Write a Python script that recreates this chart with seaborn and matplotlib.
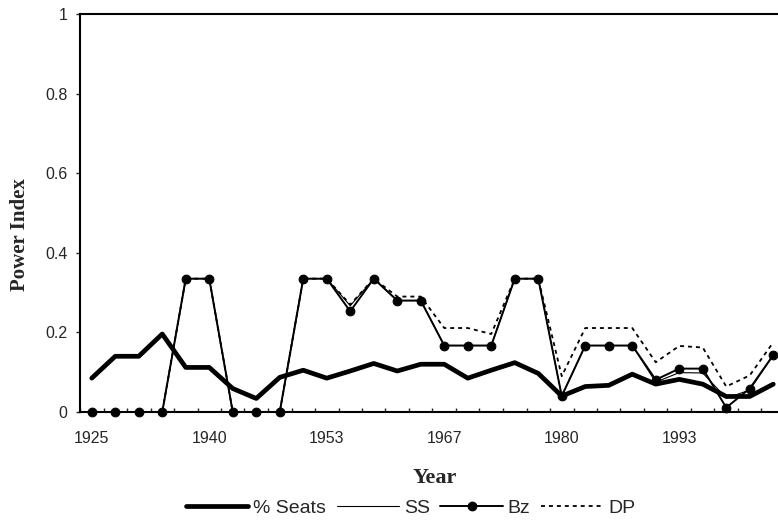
import numpy as np
import pandas as pd
import seaborn as sns
import matplotlib.pyplot as plt

# election years (only every 5th one is labelled on the axis)
years = [1925, 1928, 1931, 1934, 1937, 1940, 1943, 1945, 1948, 1950,
         1953, 1956, 1959, 1962, 1964, 1967, 1970, 1972, 1975, 1977,
         1980, 1983, 1985, 1988, 1990, 1993, 1996, 1998, 2001, 2003]

seats = [0.085, 0.14, 0.14, 0.196, 0.112, 0.112, 0.059, 0.034, 0.087, 0.105,
         0.085, 0.103, 0.122, 0.103, 0.12, 0.12, 0.085, 0.105, 0.124, 0.097,
         0.04, 0.064, 0.067, 0.095, 0.07, 0.082, 0.07, 0.039, 0.039, 0.07]

ss = [0, 0, 0, 0, 0.335, 0.335, 0, 0, 0, 0.335,
      0.335, 0.267, 0.335, 0.28, 0.28, 0.167, 0.167, 0.167, 0.335, 0.335,
      0.04, 0.167, 0.167, 0.167, 0.075, 0.099, 0.098, 0.035, 0.055, 0.143]

bz = [0, 0, 0, 0, 0.335, 0.335, 0, 0, 0, 0.335,
      0.335, 0.253, 0.335, 0.28, 0.28, 0.167, 0.167, 0.167, 0.335, 0.335,
      0.04, 0.167, 0.167, 0.167, 0.081, 0.109, 0.109, 0.011, 0.059, 0.143]

dp = [0, 0, 0, 0, 0.335, 0.335, 0, 0, 0, 0.335,
      0.335, 0.27, 0.335, 0.29, 0.29, 0.211, 0.211, 0.196, 0.335, 0.335,
      0.09, 0.211, 0.211, 0.211, 0.125, 0.166, 0.162, 0.064, 0.092, 0.175]

df = pd.DataFrame({'pos': range(len(years)), 'year': years,
                   '% Seats': seats, 'SS': ss, 'Bz': bz, 'DP': dp})

sns.set_style('ticks')
plt.rcParams['font.family'] = ['Liberation Sans', 'DejaVu Sans']

W, H = 778, 525
fig = plt.figure(figsize=(W / 100, H / 100), dpi=100)
# the plot area runs past the right edge of the picture, like the original
ax = fig.add_axes([80 / W, (H - 412) / H, 705 / W, 398 / H])

sns.lineplot(data=df, x='pos', y='% Seats', ax=ax, color='black', lw=3.4,
             label='% Seats', legend=False)
sns.lineplot(data=df, x='pos', y='SS', ax=ax, color='black', lw=0.8,
             label='SS', legend=False)
sns.lineplot(data=df, x='pos', y='Bz', ax=ax, color='black', lw=1.4,
             marker='o', markersize=6.3, markeredgecolor='black',
             label='Bz', legend=False, clip_on=False)
sns.lineplot(data=df, x='pos', y='DP', ax=ax, color='black', lw=1.3,
             linestyle=(0, (2.2, 2.2)), label='DP', legend=False)

# x axis: labels every 5 categories, tick marks between categories
ax.set_xlim(-0.5, len(years) - 0.5)
ax.set_xticks(df['pos'][::5])
ax.set_xticklabels([str(y) for y in years[::5]])
ax.set_xticks(np.arange(-0.5, len(years), 1), minor=True)
ax.tick_params(axis='x', which='major', length=0, pad=14, labelsize=11.5)
ax.tick_params(axis='x', which='minor', direction='in', length=3, width=1)

ax.set_ylim(0, 1)
ax.set_yticks([0, 0.2, 0.4, 0.6, 0.8, 1])
ax.set_yticklabels(['0', '0.2', '0.4', '0.6', '0.8', '1'])
ax.tick_params(axis='y', direction='out', length=3, width=1, pad=6,
               labelsize=11.5)

ax.set_xlabel('')
ax.set_ylabel('')
for s in ax.spines.values():
    s.set_linewidth(1.5)
    s.set_color('black')

fig.text(435 / W, 1 - 478 / H, 'Year', ha='center', va='center',
         family='Liberation Serif', fontweight='bold', fontsize=16)
fig.text(20 / W, 1 - 235 / H, 'Power Index', ha='center', va='center',
         rotation=90, family='Liberation Serif', fontweight='bold',
         fontsize=15)

handles, labels = ax.get_legend_handles_labels()
fig.legend(handles, labels, loc='center left', ncol=4, frameon=False,
           bbox_to_anchor=(186 / W, 1 - 508 / H), fontsize=14,
           handlelength=3.2, handletextpad=0.25, columnspacing=0.55,
           borderpad=0, borderaxespad=0, numpoints=1)

fig.savefig('out.png', dpi=100)
